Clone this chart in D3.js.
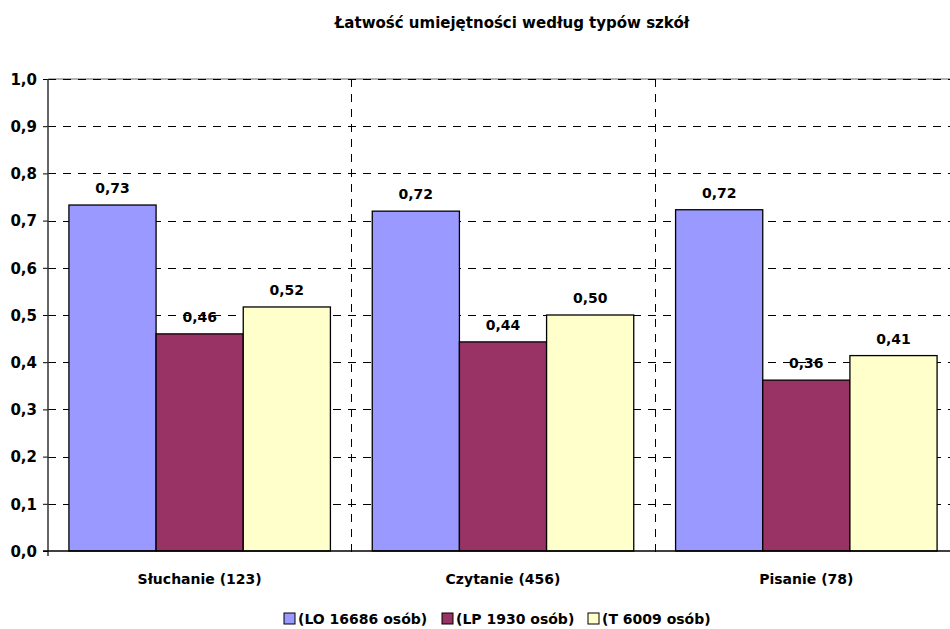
<!DOCTYPE html>
<html>
<head>
<meta charset="utf-8">
<script src="https://cdn.jsdelivr.net/npm/d3@7"></script>
<style>
body { margin:0; background:#fff; overflow:hidden; }
svg text { font-family: "DejaVu Sans", sans-serif; font-weight:bold; fill:#000; }
</style>
</head>
<body>
<div class="container"></div>
<script>
var categories = ["Słuchanie (123)", "Czytanie (456)", "Pisanie (78)"];
var series = ["(LO 16686 osób)", "(LP 1930 osób)", "(T 6009 osób)"];
var colors = ["#9999FF", "#993366", "#FFFFCC"];
var valuesLO = [0.733, 0.72, 0.723];
var valuesLP = [0.46, 0.443, 0.362];
var valuesT  = [0.517, 0.50, 0.414];
var labelsLO = ["0,73", "0,72", "0,72"];
var labelsLP = ["0,46", "0,44", "0,36"];
var labelsT  = ["0,52", "0,50", "0,41"];
var yTicks = [0, 0.1, 0.2, 0.3, 0.4, 0.5, 0.6, 0.7, 0.8, 0.9, 1.0];

var W = 950, H = 629;
var plotL = 48, plotR = 958, plotT = 79, plotB = 551;

var svg = d3.select(".container").append("svg")
    .attr("width", W).attr("height", H);

var x0 = d3.scaleBand().domain(categories).range([plotL, plotR]);
var x1 = d3.scaleBand().domain(series).range([0, x0.bandwidth()]).paddingOuter(0.24);
var y = d3.scaleLinear().domain([0, 1]).range([plotB, plotT]);

// title
svg.append("text")
    .attr("x", 512).attr("y", 28)
    .attr("text-anchor", "middle")
    .style("font-size", "15px")
    .text("Łatwość umiejętności według typów szkół");

// top border (gray)
svg.append("line")
    .attr("x1", plotL).attr("x2", plotR)
    .attr("y1", y(1)).attr("y2", y(1))
    .style("stroke", "#999").style("stroke-width", 1.5);

// horizontal grid
svg.selectAll(".hgrid").data(yTicks.slice(1)).enter().append("line")
    .attr("class", "hgrid")
    .attr("x1", plotL).attr("x2", plotR)
    .attr("y1", function(d) { return Math.round(y(d)) + 0.5; })
    .attr("y2", function(d) { return Math.round(y(d)) + 0.5; })
    .style("stroke", "#000").style("stroke-width", 1)
    .style("stroke-dasharray", "8,7");

// vertical grid at category boundaries
svg.selectAll(".vgrid").data(categories.slice(1)).enter().append("line")
    .attr("class", "vgrid")
    .attr("x1", function(d) { return Math.round(x0(d)) + 0.5; })
    .attr("x2", function(d) { return Math.round(x0(d)) + 0.5; })
    .attr("y1", plotT).attr("y2", plotB + 6)
    .style("stroke", "#000").style("stroke-width", 1)
    .style("stroke-dasharray", "8,7");

var all = [valuesLO, valuesLP, valuesT];
var labs = [labelsLO, labelsLP, labelsT];
var data = [];
categories.forEach(function(c, i) {
    series.forEach(function(s, j) {
        data.push({cat: c, ser: s, v: all[j][i], lab: labs[j][i], color: colors[j]});
    });
});

svg.selectAll(".bar").data(data).enter().append("rect")
    .attr("class", "bar")
    .attr("x", function(d) { return x0(d.cat) + x1(d.ser); })
    .attr("y", function(d) { return y(d.v); })
    .attr("width", x1.bandwidth())
    .attr("height", function(d) { return y(0) - y(d.v); })
    .style("fill", function(d) { return d.color; })
    .style("stroke", "#000").style("stroke-width", 1.3);

svg.selectAll(".lab").data(data).enter().append("text")
    .attr("class", "lab")
    .attr("x", function(d) { return x0(d.cat) + x1(d.ser) + x1.bandwidth() / 2; })
    .attr("y", function(d) { return y(d.v) - 12; })
    .attr("text-anchor", "middle")
    .style("font-size", "14px")
    .text(function(d) { return d.lab; });

// y axis
var yAxis = d3.axisLeft(y).tickValues(yTicks).tickSize(5).tickPadding(6)
    .tickFormat(function(d) { return d3.format(".1f")(d).replace(".", ","); });
var ga = svg.append("g").attr("transform", "translate(" + plotL + ",0)").call(yAxis);
ga.select(".domain").remove();
ga.selectAll("line").style("stroke", "#000");
ga.selectAll("text").style("font-size", "15px").style("font-family", "DejaVu Sans").style("font-weight", "bold").attr("dy", "0.35em");
svg.append("line")
    .attr("x1", plotL).attr("x2", plotL).attr("y1", plotT).attr("y2", plotB + 5)
    .style("stroke", "#333").style("stroke-width", 1.5);

// x axis
svg.append("line")
    .attr("x1", plotL - 5).attr("x2", plotR).attr("y1", plotB).attr("y2", plotB)
    .style("stroke", "#000").style("stroke-width", 1.5);
svg.selectAll(".xlab").data(categories).enter().append("text")
    .attr("class", "xlab")
    .attr("x", function(d) { return x0(d) + x0.bandwidth() / 2; })
    .attr("y", 584)
    .attr("text-anchor", "middle")
    .style("font-size", "14px")
    .text(function(d) { return d; });

// legend
var legX = [284, 442, 588];
var leg = svg.selectAll(".leg").data(series).enter().append("g")
    .attr("class", "leg")
    .attr("transform", function(d, i) { return "translate(" + legX[i] + ",613)"; });
leg.append("rect").attr("width", 11).attr("height", 11)
    .style("fill", function(d, i) { return colors[i]; })
    .style("stroke", "#000").style("stroke-width", 1);
leg.append("text").attr("x", 14).attr("y", 11)
    .style("font-size", "14px")
    .text(function(d) { return d; });
</script>
</body>
</html>
